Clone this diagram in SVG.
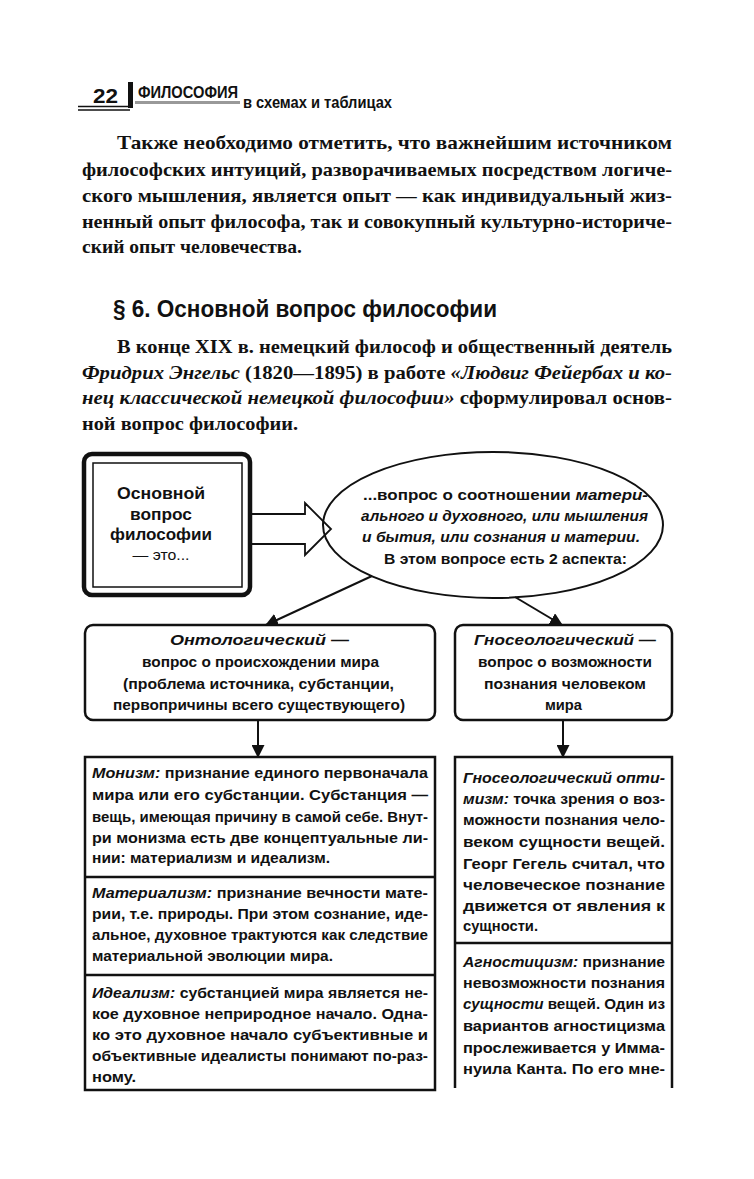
<svg xmlns="http://www.w3.org/2000/svg" width="754" height="1179" viewBox="0 0 754 1179">
<defs>
<style>
.p{font-family:"Liberation Serif",serif;font-weight:bold;font-size:19px;fill:#111}
.h{font-family:"Liberation Sans",sans-serif;font-weight:bold;font-size:24px;fill:#111}
.d{font-family:"Liberation Sans",sans-serif;font-weight:bold;font-size:15px;fill:#111}
.m{font-family:"Liberation Sans",sans-serif;font-weight:bold;font-size:17px;fill:#111}
.i{font-style:italic}
.box{fill:#fff;stroke:#111;stroke-width:2.5}
.ln{fill:none;stroke:#111;stroke-width:2}
</style>
<marker id="ah" viewBox="0 0 12 12" refX="11" refY="6" markerWidth="13" markerHeight="13" markerUnits="userSpaceOnUse" orient="auto">
<path d="M0,0 L12,6 L0,12 Z" fill="#111"/>
</marker>
</defs>
<rect width="754" height="1179" fill="#fff"/>

<g id="header">
<text x="93" y="103" font-family="Liberation Sans,sans-serif" font-weight="bold" font-size="21" textLength="25" lengthAdjust="spacingAndGlyphs" fill="#111">22</text>
<line x1="78" y1="106.5" x2="130" y2="106.5" stroke="#111" stroke-width="1.5"/>
<line x1="78" y1="110" x2="130" y2="110" stroke="#111" stroke-width="1.5"/>
<rect x="128" y="82" width="5" height="26" fill="#111"/>
<text x="138" y="98" font-family="Liberation Sans,sans-serif" font-weight="bold" font-size="16" textLength="100" lengthAdjust="spacingAndGlyphs" fill="#111">ФИЛОСОФИЯ</text>
<rect x="135" y="101" width="105" height="3" fill="#999"/>
<text x="243" y="108" font-family="Liberation Sans,sans-serif" font-weight="bold" font-size="16" textLength="149" lengthAdjust="spacingAndGlyphs" fill="#111">в схемах и таблицах</text>
</g>

<g id="para1" class="p">
<text x="117" y="149" textLength="555" lengthAdjust="spacingAndGlyphs">Также необходимо отметить, что важнейшим источником</text>
<text x="82" y="176" textLength="590" lengthAdjust="spacingAndGlyphs">философских интуиций, разворачиваемых посредством логиче-</text>
<text x="82" y="202" textLength="590" lengthAdjust="spacingAndGlyphs">ского мышления, является опыт — как индивидуальный жиз-</text>
<text x="82" y="228" textLength="590" lengthAdjust="spacingAndGlyphs">ненный опыт философа, так и совокупный культурно-историче-</text>
<text x="82" y="253" textLength="220" lengthAdjust="spacingAndGlyphs">ский опыт человечества.</text>
</g>

<g id="heading">
<text class="h" x="113" y="317" textLength="384" lengthAdjust="spacingAndGlyphs">§ 6. Основной вопрос философии</text>
</g>

<g id="para2" class="p">
<text x="117" y="353" textLength="555" lengthAdjust="spacingAndGlyphs">В конце XIX в. немецкий философ и общественный деятель</text>
<text x="82" y="379" textLength="590" lengthAdjust="spacingAndGlyphs"><tspan class="i">Фридрих Энгельс</tspan> (1820—1895) в работе <tspan class="i">«Людвиг Фейербах и ко-</tspan></text>
<text x="82" y="404" textLength="590" lengthAdjust="spacingAndGlyphs"><tspan class="i">нец классической немецкой философии»</tspan> сформулировал основ-</text>
<text x="82" y="430" textLength="216" lengthAdjust="spacingAndGlyphs">ной вопрос философии.</text>
</g>

<g id="main">
<rect x="84" y="454" width="166" height="141" rx="8" fill="#fff" stroke="#111" stroke-width="4.5"/>
<rect x="93" y="463" width="149" height="124" fill="none" stroke="#111" stroke-width="1.5"/>
<text class="m" x="161" y="499" text-anchor="middle" textLength="88" lengthAdjust="spacingAndGlyphs">Основной</text>
<text class="m" x="161" y="520" text-anchor="middle" textLength="62" lengthAdjust="spacingAndGlyphs">вопрос</text>
<text class="m" x="161" y="540" text-anchor="middle" textLength="102" lengthAdjust="spacingAndGlyphs">философии</text>
<text x="161" y="560" text-anchor="middle" font-family="Liberation Sans,sans-serif" font-size="14" textLength="57" lengthAdjust="spacingAndGlyphs" fill="#111">— это...</text>
</g>

<g id="question">
<ellipse cx="493" cy="525" rx="170" ry="73" fill="#fff" stroke="#111" stroke-width="2"/>
<text class="d" x="363" y="500" textLength="285" lengthAdjust="spacingAndGlyphs">...вопрос о соотношении <tspan class="i">матери-</tspan></text>
<text class="d i" x="361" y="521" textLength="287" lengthAdjust="spacingAndGlyphs">ального и духовного, или мышления</text>
<text class="d i" x="362" y="542" textLength="278" lengthAdjust="spacingAndGlyphs">и бытия, или сознания и материи.</text>
<text class="d" x="384" y="564" textLength="243" lengthAdjust="spacingAndGlyphs">В этом вопросе есть 2 аспекта:</text>
</g>

<g id="onto">
<rect class="box" x="85" y="625" width="350" height="95" rx="8"/>
<text class="d" x="170" y="645" textLength="179" lengthAdjust="spacingAndGlyphs"><tspan class="i">Онтологический</tspan>  —</text>
<text class="d" x="142" y="667" textLength="237" lengthAdjust="spacingAndGlyphs">вопрос о происхождении мира</text>
<text class="d" x="123" y="689" textLength="271" lengthAdjust="spacingAndGlyphs">(проблема источника, субстанции,</text>
<text class="d" x="113" y="710" textLength="292" lengthAdjust="spacingAndGlyphs">первопричины всего существующего)</text>
</g>

<g id="gnoseo">
<rect class="box" x="455" y="625" width="217" height="95" rx="8"/>
<text class="d" x="474" y="645" textLength="182" lengthAdjust="spacingAndGlyphs"><tspan class="i">Гносеологический</tspan>  —</text>
<text class="d" x="478" y="667" textLength="174" lengthAdjust="spacingAndGlyphs">вопрос о возможности</text>
<text class="d" x="484" y="689" textLength="162" lengthAdjust="spacingAndGlyphs">познания человеком</text>
<text class="d" x="545" y="710" textLength="37" lengthAdjust="spacingAndGlyphs">мира</text>
</g>

<g id="left-list">
<rect x="85" y="757" width="350" height="333" fill="#fff" stroke="#111" stroke-width="2.5"/>
<line x1="85" y1="877" x2="435" y2="877" stroke="#111" stroke-width="2.5"/>
<line x1="85" y1="975" x2="435" y2="975" stroke="#111" stroke-width="2.5"/>
<text class="d" x="92" y="778" textLength="336" lengthAdjust="spacingAndGlyphs"><tspan class="i">Монизм:</tspan> признание единого первоначала</text>
<text class="d" x="92" y="800" textLength="336" lengthAdjust="spacingAndGlyphs">мира или его субстанции. Субстанция —</text>
<text class="d" x="92" y="822" textLength="336" lengthAdjust="spacingAndGlyphs">вещь, имеющая причину в самой себе. Внут-</text>
<text class="d" x="92" y="843" textLength="336" lengthAdjust="spacingAndGlyphs">ри монизма есть две концептуальные ли-</text>
<text class="d" x="92" y="863" textLength="238" lengthAdjust="spacingAndGlyphs">нии: материализм и идеализм.</text>
<text class="d" x="92" y="898" textLength="336" lengthAdjust="spacingAndGlyphs"><tspan class="i">Материализм:</tspan> признание вечности мате-</text>
<text class="d" x="92" y="919" textLength="336" lengthAdjust="spacingAndGlyphs">рии, т.е. природы. При этом сознание, иде-</text>
<text class="d" x="92" y="940" textLength="336" lengthAdjust="spacingAndGlyphs">альное, духовное трактуются как следствие</text>
<text class="d" x="92" y="961" textLength="241" lengthAdjust="spacingAndGlyphs">материальной эволюции мира.</text>
<text class="d" x="92" y="998" textLength="336" lengthAdjust="spacingAndGlyphs"><tspan class="i">Идеализм:</tspan> субстанцией мира является не-</text>
<text class="d" x="92" y="1019" textLength="336" lengthAdjust="spacingAndGlyphs">кое духовное неприродное начало. Одна-</text>
<text class="d" x="92" y="1040" textLength="336" lengthAdjust="spacingAndGlyphs">ко это духовное начало субъективные и</text>
<text class="d" x="92" y="1061" textLength="336" lengthAdjust="spacingAndGlyphs">объективные идеалисты понимают по-раз-</text>
<text class="d" x="92" y="1082" textLength="44" lengthAdjust="spacingAndGlyphs">ному.</text>
</g>

<g id="right-list">
<path d="M455,1088 V757 H672 V1088" fill="#fff" stroke="#111" stroke-width="2.5"/>
<line x1="455" y1="943" x2="672" y2="943" stroke="#111" stroke-width="2.5"/>
<text class="d i" x="463" y="783" textLength="202" lengthAdjust="spacingAndGlyphs">Гносеологический опти-</text>
<text class="d" x="463" y="804" textLength="202" lengthAdjust="spacingAndGlyphs"><tspan class="i">мизм:</tspan> точка зрения о воз-</text>
<text class="d" x="463" y="825" textLength="202" lengthAdjust="spacingAndGlyphs">можности познания чело-</text>
<text class="d" x="463" y="847" textLength="202" lengthAdjust="spacingAndGlyphs">веком сущности вещей.</text>
<text class="d" x="463" y="869" textLength="202" lengthAdjust="spacingAndGlyphs">Георг Гегель считал, что</text>
<text class="d" x="463" y="890" textLength="202" lengthAdjust="spacingAndGlyphs">человеческое познание</text>
<text class="d" x="463" y="911" textLength="202" lengthAdjust="spacingAndGlyphs">движется от явления к</text>
<text class="d" x="463" y="931" textLength="75" lengthAdjust="spacingAndGlyphs">сущности.</text>
<text class="d" x="463" y="967" textLength="202" lengthAdjust="spacingAndGlyphs"><tspan class="i">Агностицизм:</tspan> признание</text>
<text class="d" x="463" y="988" textLength="202" lengthAdjust="spacingAndGlyphs">невозможности познания</text>
<text class="d" x="463" y="1009" textLength="202" lengthAdjust="spacingAndGlyphs"><tspan class="i">сущности</tspan> вещей. Один из</text>
<text class="d" x="463" y="1031" textLength="202" lengthAdjust="spacingAndGlyphs">вариантов агностицизма</text>
<text class="d" x="463" y="1053" textLength="202" lengthAdjust="spacingAndGlyphs">прослеживается у Имма-</text>
<text class="d" x="463" y="1074" textLength="202" lengthAdjust="spacingAndGlyphs">нуила Канта. По его мне-</text>
</g>

<g id="connectors">
<path d="M251,514 H305 V503 L331,529 L305,555 V544 H251" fill="none" stroke="#111" stroke-width="1.8" stroke-linejoin="miter"/>
<line class="ln" x1="372" y1="576" x2="266" y2="625" marker-end="url(#ah)"/>
<line class="ln" x1="515" y1="597" x2="562" y2="625" marker-end="url(#ah)"/>
<line class="ln" x1="258" y1="720" x2="258" y2="757" marker-end="url(#ah)"/>
<line class="ln" x1="563" y1="720" x2="563" y2="757" marker-end="url(#ah)"/>
</g>
</svg>
